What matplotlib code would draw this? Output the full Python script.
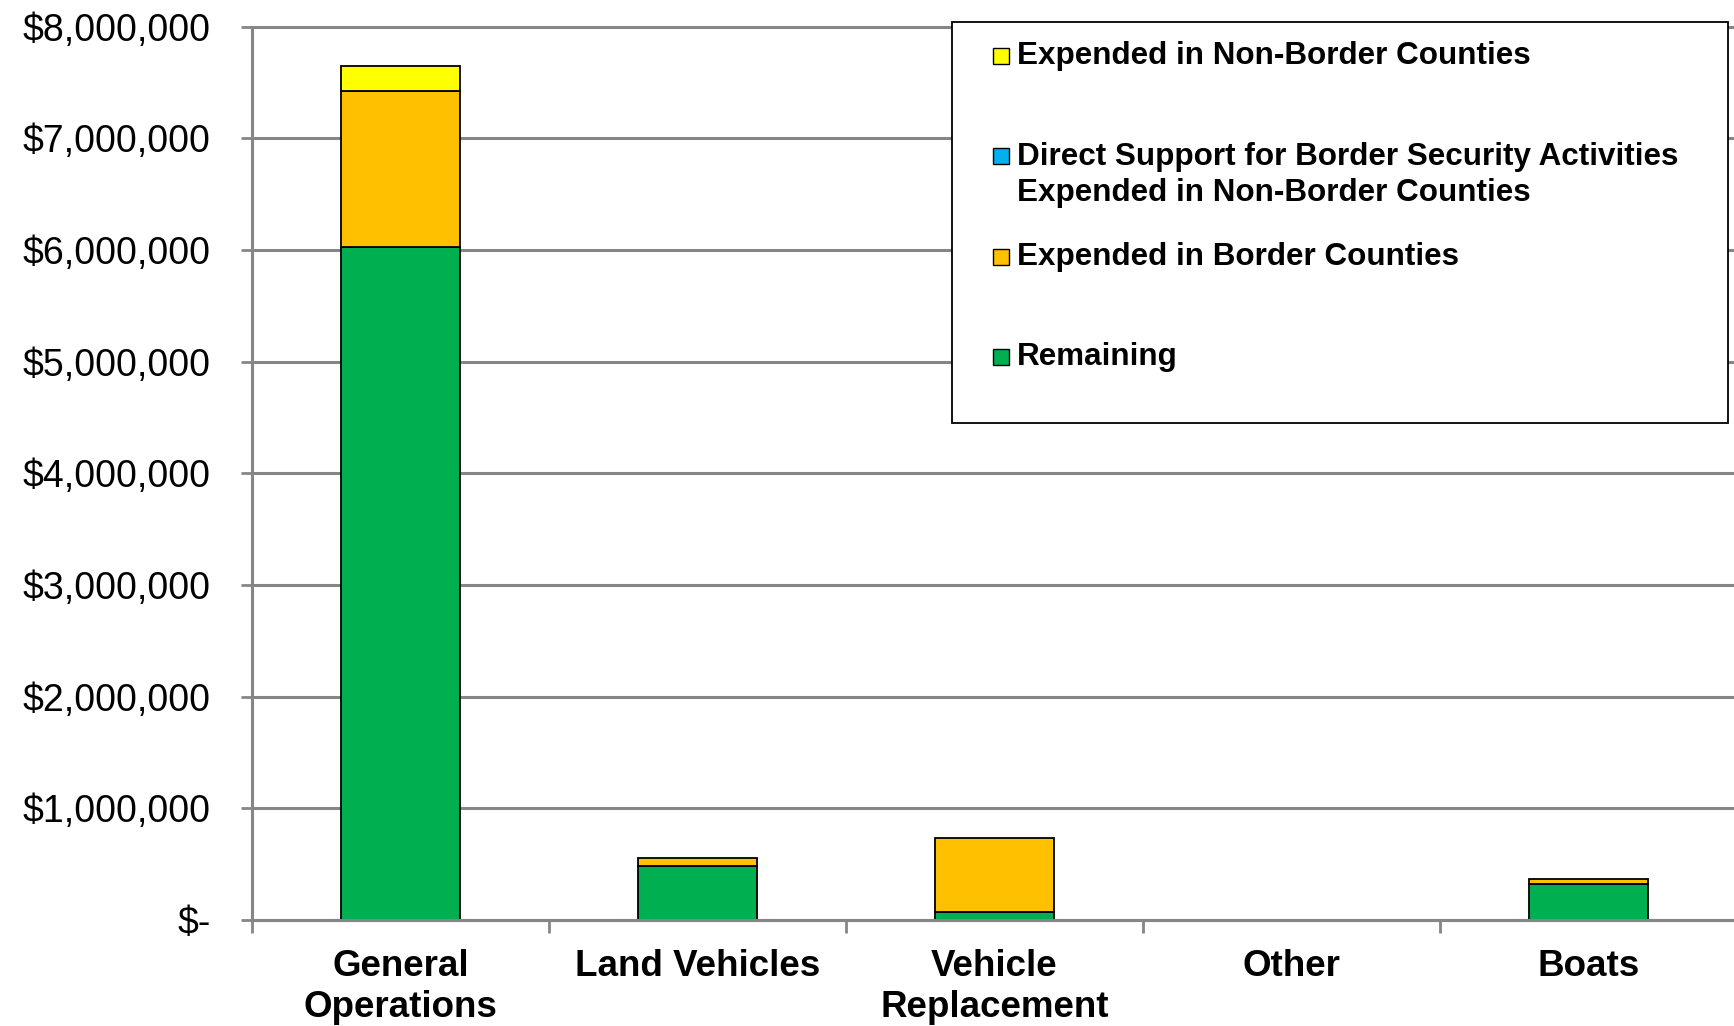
import numpy as np
import matplotlib.pyplot as plt
from matplotlib.patches import Rectangle

plt.rcParams['font.family'] = ['Liberation Sans', 'DejaVu Sans']

# Data
categories = ['General\nOperations', 'Land Vehicles', 'Vehicle\nReplacement', 'Other', 'Boats']
remaining = [6030000, 483000, 75000, 0, 324000]
border = [1390000, 76000, 657000, 0, 45000]
direct_support = [0, 0, 0, 0, 0]
non_border = [230000, 0, 0, 0, 0]

series = [
    ('Remaining', remaining, '#00B050'),
    ('Expended in Border Counties', border, '#FFC000'),
    ('Direct Support for Border Security Activities\nExpended in Non-Border Counties', direct_support, '#00B0F0'),
    ('Expended in Non-Border Counties', non_border, '#FFFF00'),
]

ytick_vals = [0, 1e6, 2e6, 3e6, 4e6, 5e6, 6e6, 7e6, 8e6]
ytick_labels = ['$-'] + ['${:,.0f}'.format(v) for v in ytick_vals[1:]]

W, H = 1734, 1026
fig = plt.figure(figsize=(W / 100, H / 100), dpi=100)
ax = fig.add_axes([252 / W, 1 - 920 / H, (1737 - 252) / W, (920 - 26.5) / H])

x = np.arange(len(categories))
bottom = np.zeros(len(categories))
for name, vals, color in series:
    vals = np.array(vals, dtype=float)
    lw = [1.3 if v > 0 else 0 for v in vals]
    ax.bar(x, vals, 0.4, bottom=bottom, color=color, edgecolor='black',
           linewidth=lw, zorder=3)
    bottom += vals

grey = '#868686'
ax.set_xlim(-0.5, len(categories) - 0.5)
ax.set_ylim(0, 8e6)
ax.set_yticks(ytick_vals)
ax.set_yticklabels(ytick_labels, fontsize=27)
ax.yaxis.grid(True, color=grey, linewidth=2.2, zorder=0)
for gl in ax.yaxis.get_gridlines():
    gl.set_clip_on(False)

ax.set_xticks(np.arange(-0.5, len(categories)), minor=False)
ax.set_xticklabels([])
ax.set_xticks(x, minor=True)
ax.set_xticklabels(categories, minor=True, fontsize=26.5, fontweight='bold',
                   linespacing=1.2)
ax.tick_params(axis='x', which='major', length=9, width=2, color=grey, direction='out')
ax.tick_params(axis='x', which='minor', length=0, pad=21)
ax.tick_params(axis='y', length=8, width=2, color=grey, pad=22)

for side in ['top', 'right']:
    ax.spines[side].set_visible(False)
for side in ['left', 'bottom']:
    ax.spines[side].set_color(grey)
    ax.spines[side].set_linewidth(2.2)
ax.spines['bottom'].set_zorder(4)

# Legend drawn by hand to keep the uneven spacing of the original
def fx(px):
    return px / W

def fy(py):
    return 1 - py / H

fig.add_artist(Rectangle((fx(952), fy(423)), fx(1728) - fx(952), fy(22) - fy(423),
                         transform=fig.transFigure, facecolor='white',
                         edgecolor='black', linewidth=1.3, zorder=10))
legend_rows = [
    (series[3], 56, 56),
    (series[2], 156, 175),
    (series[1], 257, 257),
    (series[0], 357, 357),
]
for (name, vals, color), marker_y, text_y in legend_rows:
    fig.add_artist(Rectangle((fx(993), fy(marker_y + 8)), fx(16), 16 / H,
                             transform=fig.transFigure, facecolor=color,
                             edgecolor='black', linewidth=1.0, zorder=11))
    fig.text(fx(1017), fy(text_y), name, fontsize=22.6, fontweight='bold',
             va='center', ha='left', linespacing=1.25, zorder=11)

fig.savefig('out.png', dpi=100)
